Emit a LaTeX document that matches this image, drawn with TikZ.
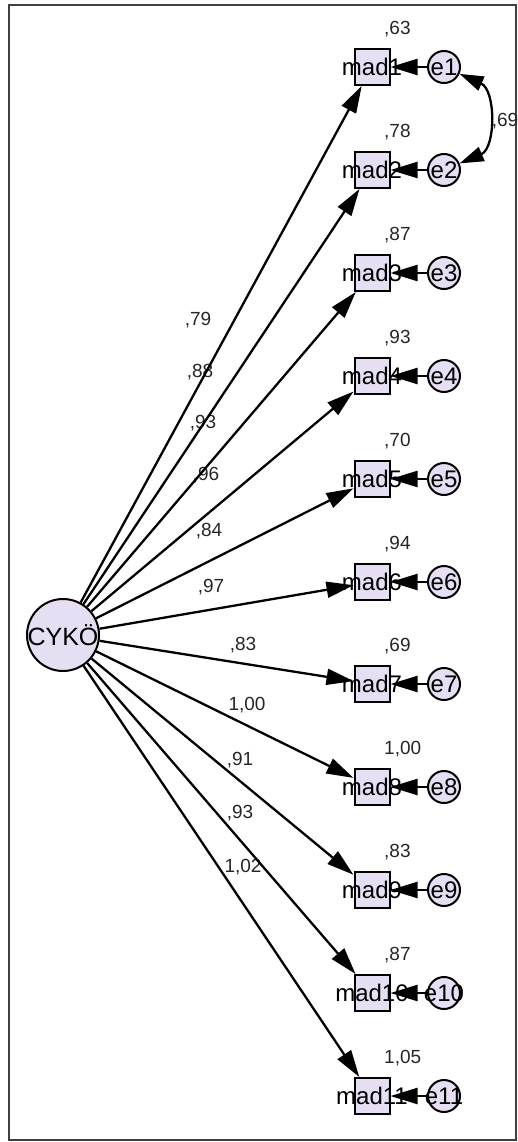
\documentclass[tikz,border=0pt]{standalone}
\usepackage{fontspec}
\setmainfont{Liberation Sans}
\usetikzlibrary{arrows.meta}
\definecolor{boxfill}{HTML}{E6DEF2}
\begin{document}
\begin{tikzpicture}[x=1pt,y=-1pt,
  obs/.style={draw, line width=2pt, fill=boxfill, minimum width=35pt, minimum height=36pt, inner sep=0pt},
  err/.style={circle, draw, line width=2pt, fill=boxfill, minimum size=32pt, inner sep=0pt},
  lat/.style={circle, draw, line width=2pt, fill=boxfill, minimum size=72pt, inner sep=0pt},
  txt/.style={font=\fontsize{24}{24}\selectfont, inner sep=0pt},
  val/.style={font=\fontsize{19}{19}\selectfont, inner sep=0pt, text=black!85},
  arr/.style={line width=2.3pt, -{Triangle[length=27pt,width=16pt]}},
  cov/.style={line width=2.3pt, {Triangle[length=24pt,width=15pt]}-{Triangle[length=24pt,width=15pt]}}
]
\useasboundingbox (0,0) rectangle (518,1142);
\draw[line width=1.4pt, black!75] (9,5) rectangle (516,1140);

% latent
\node[lat] (cyk) at (63,635) {};
\node[txt, font=\fontsize{25}{25}\selectfont] (cykt) at (63,635) {CYKÖ};

% observed boxes
\node[obs] (m1) at (372,67) {};
\node[obs] (m2) at (372,170) {};
\node[obs] (m3) at (372,273) {};
\node[obs] (m4) at (372,376) {};
\node[obs] (m5) at (372,479) {};
\node[obs] (m6) at (372,582) {};
\node[obs] (m7) at (372,684) {};
\node[obs] (m8) at (372,787) {};
\node[obs] (m9) at (372,890) {};
\node[obs] (m10) at (372,993) {};
\node[obs] (m11) at (372,1096) {};

\node[txt] (mt1) at (372,67) {mad1};
\node[txt] (mt2) at (372,170) {mad2};
\node[txt] (mt3) at (372,273) {mad3};
\node[txt] (mt4) at (372,376) {mad4};
\node[txt] (mt5) at (372,479) {mad5};
\node[txt] (mt6) at (372,582) {mad6};
\node[txt] (mt7) at (372,684) {mad7};
\node[txt] (mt8) at (372,787) {mad8};
\node[txt] (mt9) at (372,890) {mad9};
\node[txt] (mt10) at (372,993) {mad10};
\node[txt] (mt11) at (372,1096) {mad11};

% error circles
\node[err] (e1) at (444,67) {};
\node[err] (e2) at (444,170) {};
\node[err] (e3) at (444,273) {};
\node[err] (e4) at (444,376) {};
\node[err] (e5) at (444,479) {};
\node[err] (e6) at (444,582) {};
\node[err] (e7) at (444,684) {};
\node[err] (e8) at (444,787) {};
\node[err] (e9) at (444,890) {};
\node[err] (e10) at (444,993) {};
\node[err] (e11) at (444,1096) {};

\node[txt] (et1) at (444,67) {e1};
\node[txt] (et2) at (444,170) {e2};
\node[txt] (et3) at (444,273) {e3};
\node[txt] (et4) at (444,376) {e4};
\node[txt] (et5) at (444,479) {e5};
\node[txt] (et6) at (444,582) {e6};
\node[txt] (et7) at (444,684) {e7};
\node[txt] (et8) at (444,787) {e8};
\node[txt] (et9) at (444,890) {e9};
\node[txt] (et10) at (444,993) {e10};
\node[txt] (et11) at (444,1096) {e11};

% squared multiple correlations
\node[val, anchor=west] (r1) at (384,29) {,63};
\node[val, anchor=west] (r2) at (384,132) {,78};
\node[val, anchor=west] (r3) at (384,235) {,87};
\node[val, anchor=west] (r4) at (384,338) {,93};
\node[val, anchor=west] (r5) at (384,441) {,70};
\node[val, anchor=west] (r6) at (384,544) {,94};
\node[val, anchor=west] (r7) at (384,646) {,69};
\node[val, anchor=west] (r8) at (384,749) {1,00};
\node[val, anchor=west] (r9) at (384,852) {,83};
\node[val, anchor=west] (r10) at (384,955) {,87};
\node[val, anchor=west] (r11) at (384,1058) {1,05};

% loadings
\node[val] (l1) at (198,320) {,79};
\node[val] (l2) at (200,372) {,88};
\node[val] (l3) at (203,423) {,93};
\node[val] (l4) at (206,475) {,96};
\node[val] (l5) at (209,531) {,84};
\node[val] (l6) at (211,587) {,97};
\node[val] (l7) at (243,645) {,83};
\node[val] (l8) at (247,705) {1,00};
\node[val] (l9) at (240,760) {,91};
\node[val] (l10) at (240,813) {,93};
\node[val] (l11) at (243,867) {1,02};

% paths
\draw[arr] (cyk) -- (m1);
\draw[arr] (cyk) -- (m2);
\draw[arr] (cyk) -- (m3);
\draw[arr] (cyk) -- (m4);
\draw[arr] (cyk) -- (m5);
\draw[arr] (cyk) -- (m6);
\draw[arr] (cyk) -- (m7);
\draw[arr] (cyk) -- (m8);
\draw[arr] (cyk) -- (m9);
\draw[arr] (cyk) -- (m10);
\draw[arr] (cyk) -- (m11);

\draw[arr] (e1) -- (m1);
\draw[arr] (e2) -- (m2);
\draw[arr] (e3) -- (m3);
\draw[arr] (e4) -- (m4);
\draw[arr] (e5) -- (m5);
\draw[arr] (e6) -- (m6);
\draw[arr] (e7) -- (m7);
\draw[arr] (e8) -- (m8);
\draw[arr] (e9) -- (m9);
\draw[arr] (e10) -- (m10);
\draw[arr] (e11) -- (m11);

% covariance
\draw[cov] (e1) .. controls (496,90) and (496,148) .. (e2);
\node[val] (c12) at (505,121) {,69};
\end{tikzpicture}
\end{document}
